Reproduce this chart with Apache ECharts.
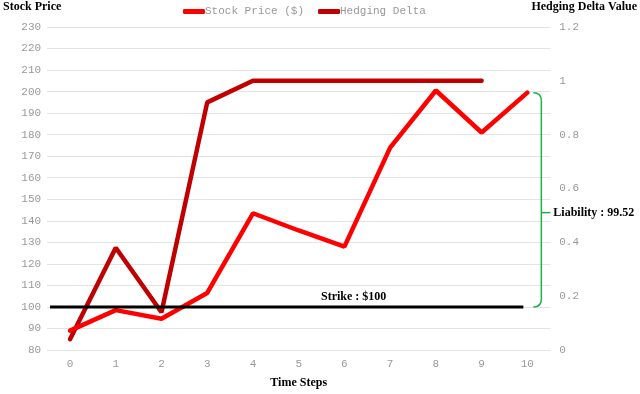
<!DOCTYPE html>
<html><head><meta charset="utf-8">
<script src="https://cdn.jsdelivr.net/npm/echarts@6/dist/echarts.min.js"></script>
<style>html,body{margin:0;padding:0;background:#fff}#c{width:640px;height:394px}</style>
</head><body><div id="c"></div>
<script>
const steps = ['0','1','2','3','4','5','6','7','8','9','10'];
const stockPrice = [89, 98.5, 94.5, 106.5, 143.5, 135.5, 128, 174, 200.5, 181, 199.52];
const hedgeDelta = [0.04, 0.38, 0.14, 0.92, 1, 1, 1, 1, 1, 1];
const strike = 100;
const liability = 99.52;

const chart = echarts.init(document.getElementById('c'));
const mono = {fontFamily: 'Liberation Mono', fontSize: 11, color: '#999'};
const serifBold = {fontFamily: 'Liberation Serif', fontWeight: 'bold', fontSize: 12, color: '#000'};
chart.setOption({
  animation: false,
  grid: {left: 44, right: 88, top: 27, bottom: 41},
  legend: {
    top: 1, left: 178, itemGap: 14, itemWidth: 22, itemHeight: 5, icon: 'roundRect',
    textStyle: {fontFamily: 'Liberation Mono', fontSize: 11, color: '#999', padding: [0,0,0,-5]},
    data: ['Stock Price ($)', 'Hedging Delta']
  },
  xAxis: {
    type: 'category', data: steps, boundaryGap: true,
    name: 'Time Steps', nameLocation: 'middle', nameGap: 27, nameTextStyle: serifBold,
    axisLine: {show: false}, axisTick: {show: false},
    axisLabel: Object.assign({margin: 9}, mono)
  },
  yAxis: [{
    type: 'value', min: 80, max: 230, interval: 10,
    name: 'Stock Price', nameLocation: 'end', nameGap: 14,
    nameTextStyle: Object.assign({padding: [0, 30, 0, 0]}, serifBold),
    axisLine: {show: false}, axisTick: {show: false},
    axisLabel: Object.assign({margin: 6}, mono),
    splitLine: {lineStyle: {color: '#e3e3e3', width: 1}}
  }, {
    type: 'value', min: 0, max: 1.2, interval: 0.2,
    name: 'Hedging Delta Value', nameLocation: 'end', nameGap: 14,
    nameTextStyle: Object.assign({padding: [0, 0, 0, 68]}, serifBold),
    axisLine: {show: false}, axisTick: {show: false},
    axisLabel: Object.assign({margin: 9}, mono),
    splitLine: {show: false}
  }],
  series: [{
    name: 'Stock Price ($)', type: 'line', data: stockPrice, yAxisIndex: 0,
    symbol: 'none', color: '#ff0000', lineStyle: {width: 4.5, color: '#ff0000', cap: 'round'}, z: 3
  }, {
    name: 'Hedging Delta', type: 'line', data: hedgeDelta, yAxisIndex: 1,
    symbol: 'none', color: '#c00000', lineStyle: {width: 4.5, color: '#c00000', cap: 'round'}, z: 2
  }]
});

const yStrike = chart.convertToPixel({yAxisIndex: 0}, strike);
const yTop = chart.convertToPixel({yAxisIndex: 0}, strike + liability);
const xLast = chart.convertToPixel({xAxisIndex: 0}, steps[steps.length - 1]);
const xFirst = chart.convertToPixel({xAxisIndex: 0}, steps[0]);
const bx0 = xLast + 6, bx1 = xLast + 14, yMid = yTop + 0.56 * (yStrike - yTop);
const green = {stroke: '#1db04b', lineWidth: 1.5, fill: null};
chart.setOption({
  graphic: [
    {type: 'line', shape: {x1: xFirst - 20, y1: yStrike, x2: xLast - 4, y2: yStrike},
      style: {stroke: '#000', lineWidth: 3}, z: 10},
    {type: 'text', x: (xFirst + xLast) / 2 + 55, y: yStrike - 4,
      style: {text: 'Strike : $' + strike, textAlign: 'center', textVerticalAlign: 'bottom',
        font: 'bold 12px "Liberation Serif"', fill: '#000'}, z: 10},
    {type: 'bezierCurve', shape: {x1: bx0, y1: yTop, cpx1: bx1, cpy1: yTop, x2: bx1, y2: yTop + 8},
      style: green, z: 10},
    {type: 'line', shape: {x1: bx1, y1: yTop + 8, x2: bx1, y2: yStrike - 8}, style: green, z: 10},
    {type: 'bezierCurve', shape: {x1: bx1, y1: yStrike - 8, cpx1: bx1, cpy1: yStrike, x2: bx0, y2: yStrike},
      style: green, z: 10},
    {type: 'line', shape: {x1: bx1, y1: yMid, x2: bx1 + 9, y2: yMid}, style: green, z: 10},
    {type: 'text', x: bx1 + 12, y: yMid,
      style: {text: 'Liability : ' + liability, textAlign: 'left', textVerticalAlign: 'middle',
        font: 'bold 12px "Liberation Serif"', fill: '#000'}, z: 10}
  ]
});
</script></body></html>
